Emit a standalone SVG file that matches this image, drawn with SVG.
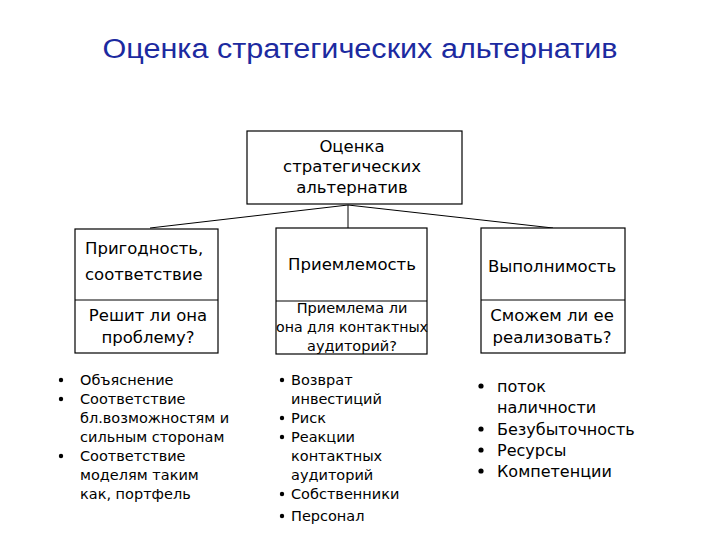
<svg xmlns="http://www.w3.org/2000/svg" width="720" height="540" viewBox="0 0 720 540">
<style>
.t{font-family:"DejaVu Sans","Liberation Sans",sans-serif;fill:#000}
.b{fill:#fff;stroke:#000;stroke-width:1.2}
.c{stroke:#000;stroke-width:1;fill:none}
.m{text-anchor:middle}
</style>
<rect width="720" height="540" fill="#fff"/>
<text x="360" y="58" font-size="27" text-anchor="middle" textLength="515" lengthAdjust="spacingAndGlyphs" style="font-family:'Liberation Sans','DejaVu Sans',sans-serif;fill:#1c2aa0">Оценка стратегических альтернатив</text>
<g id="connectors">
<path class="c" d="M348 205 L348 228 M348 205 L150 228 M348 205 L553 228"/>
</g>
<g id="top">
<rect class="b" x="247" y="131" width="215" height="73"/>
<text class="t m" font-size="16.5" x="352" y="152">Оценка</text>
<text class="t m" font-size="16.5" x="352" y="172">стратегических</text>
<text class="t m" font-size="16.5" x="352" y="193">альтернатив</text>
</g>
<g id="left">
<rect class="b" x="75" y="229" width="143" height="124"/>
<line class="c" x1="75" y1="300" x2="218" y2="300"/>
<text class="t" font-size="16.5" x="85" y="254">Пригодность,</text>
<text class="t" font-size="16.5" x="85" y="280">соответствие</text>
<text class="t m" font-size="16.5" x="148" y="321">Решит ли она</text>
<text class="t m" font-size="16.5" x="148" y="343">проблему?</text>
</g>
<g id="middle">
<rect class="b" x="276" y="228" width="151" height="126"/>
<line class="c" x1="276" y1="301" x2="427" y2="301"/>
<text class="t m" font-size="16.5" x="352" y="270">Приемлемость</text>
<text class="t m" font-size="14.5" x="352" y="313">Приемлема ли</text>
<text class="t m" font-size="14.5" x="352" y="332" textLength="152" lengthAdjust="spacingAndGlyphs">она для контактных</text>
<text class="t m" font-size="14.5" x="352" y="351">аудиторий?</text>
</g>
<g id="right">
<rect class="b" x="481" y="228" width="144" height="125"/>
<line class="c" x1="481" y1="300" x2="625" y2="300"/>
<text class="t m" font-size="16.5" x="552" y="272">Выполнимость</text>
<text class="t m" font-size="16.5" x="552" y="321">Сможем ли ее</text>
<text class="t m" font-size="16.5" x="552" y="343">реализовать?</text>
</g>
<g id="list-left" class="t" font-size="14.5">
<circle cx="61" cy="380" r="2.2"/><text x="80" y="385">Объяснение</text>
<circle cx="61" cy="399" r="2.2"/><text x="80" y="404">Соответствие</text>
<text x="80" y="423">бл.возможностям и</text>
<text x="80" y="442">сильным сторонам</text>
<circle cx="61" cy="456" r="2.2"/><text x="80" y="461">Соответствие</text>
<text x="80" y="480">моделям таким</text>
<text x="80" y="499">как, портфель</text>
</g>
<g id="list-mid" class="t" font-size="14.5">
<circle cx="282" cy="380" r="2.2"/><text x="291" y="385">Возврат</text>
<text x="291" y="404">инвестиций</text>
<circle cx="282" cy="418" r="2.2"/><text x="291" y="423">Риск</text>
<circle cx="282" cy="437" r="2.2"/><text x="291" y="442">Реакции</text>
<text x="291" y="461">контактных</text>
<text x="291" y="480">аудиторий</text>
<circle cx="282" cy="494" r="2.2"/><text x="291" y="499">Собственники</text>
<circle cx="282" cy="516" r="2.2"/><text x="291" y="521">Персонал</text>
</g>
<g id="list-right" class="t" font-size="16">
<circle cx="481" cy="386" r="2.6"/><text x="497" y="392">поток</text>
<text x="497" y="413">наличности</text>
<circle cx="481" cy="429" r="2.6"/><text x="497" y="435">Безубыточность</text>
<circle cx="481" cy="450" r="2.6"/><text x="497" y="456">Ресурсы</text>
<circle cx="481" cy="471" r="2.6"/><text x="497" y="477">Компетенции</text>
</g>
</svg>
